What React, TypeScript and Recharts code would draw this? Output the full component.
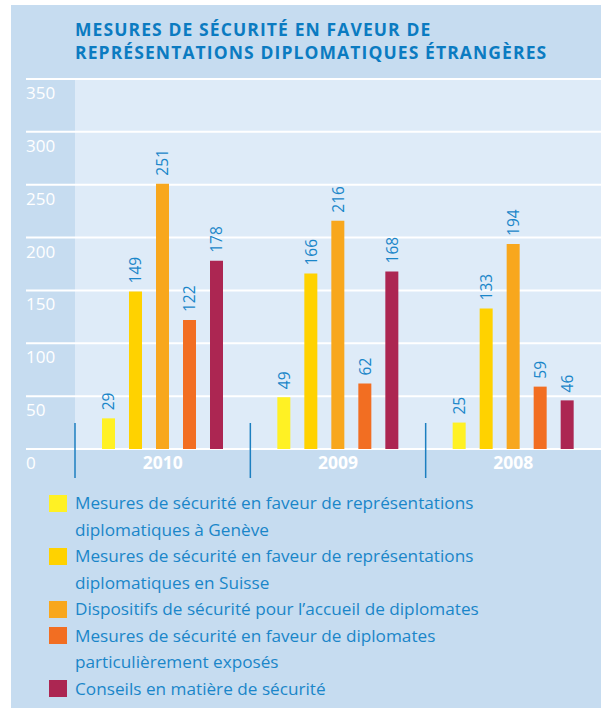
import React from 'react';
import { BarChart, Bar, XAxis, YAxis, CartesianGrid, Legend, LabelList } from 'recharts';

const years = ['2010', '2009', '2008'];
const geneve = [29, 49, 25];
const suisse = [149, 166, 133];
const accueil = [251, 216, 194];
const exposes = [122, 62, 59];
const conseils = [178, 168, 46];
const yTicks = [0, 50, 100, 150, 200, 250, 300, 350];

const seriesNames = [
    'Mesures de sécurité en faveur de représentations diplomatiques à Genève',
    'Mesures de sécurité en faveur de représentations diplomatiques en Suisse',
    'Dispositifs de sécurité pour l’accueil de diplomates',
    'Mesures de sécurité en faveur de diplomates particulièrement exposés',
    'Conseils en matière de sécurité',
];
const seriesColors = ['#fff124', '#ffd200', '#f8a71d', '#f26e22', '#ac2652'];
const seriesKeys = ['geneve', 'suisse', 'accueil', 'exposes', 'conseils'];
const seriesValues = [geneve, suisse, accueil, exposes, conseils];

const data = years.map((year, i) => {
    const row: any = { year };
    seriesKeys.forEach((k, s) => { row[k] = seriesValues[s][i]; });
    return row;
});

const W = 601;
const H = 711;
const PLOT_LEFT = 26;
const PLOT_TOP = 79;
const PLOT_BOTTOM = 449;
const CAT_LEFT = 75;
const BAND = (W - CAT_LEFT) / years.length;
const FONT = '"Open Sans", "Noto Sans", sans-serif';
const BLUE = '#1a86c9';

const YTick = ({ y, payload }) => (
    <text x={PLOT_LEFT} y={y + 20} fill="#ffffff" fontSize={17} fontFamily={FONT} textAnchor="start">
        {payload.value}
    </text>
);

const XTick = ({ x, payload }) => (
    <g>
        <line x1={x - BAND / 2} x2={x - BAND / 2} y1={PLOT_BOTTOM - 26} y2={PLOT_BOTTOM + 29} stroke="#1c7fc0" strokeWidth={1.5} />
        <text x={x} y={PLOT_BOTTOM + 20} fill="#ffffff" fontSize={17.5} fontWeight={700} fontFamily={FONT} textAnchor="middle">
            {payload.value}
        </text>
    </g>
);

const ValueLabel = ({ x, y, width, value }) => {
    const cx = x + width / 2;
    const ty = y - 8;
    return (
        <text x={cx} y={ty} transform={`rotate(-90, ${cx}, ${ty})`} fill={BLUE} fontSize={15.5} fontFamily={FONT}
            textAnchor="start" dominantBaseline="central">
            {value}
        </text>
    );
};

// keep the legend in series order, not alphabetical
const LegendContent = ({ payload }) => {
    const items = [...payload].sort((a, b) => seriesNames.indexOf(a.value) - seriesNames.indexOf(b.value));
    return (
        <div style={{ fontFamily: FONT, fontSize: 17.2, lineHeight: '26.5px', color: BLUE }}>
            {items.map((entry) => (
                <div key={entry.value} style={{ display: 'flex', alignItems: 'flex-start' }}>
                    <div style={{ width: 18, height: 17, marginTop: 4.5, marginRight: 8, background: entry.color, flexShrink: 0 }} />
                    <div style={{ width: 440 }}>{entry.value}</div>
                </div>
            ))}
        </div>
    );
};

export default function App() {
    return (
        <div style={{ position: 'absolute', left: 0, top: 0, width: W, height: H, background: '#ffffff', overflow: 'hidden' }}>
            <div style={{ position: 'absolute', left: 11, top: 5, width: W - 11, height: 703, background: '#c6dcf0' }} />
            <div style={{ position: 'absolute', left: CAT_LEFT, top: PLOT_TOP, width: W - CAT_LEFT, height: PLOT_BOTTOM - PLOT_TOP, background: '#deebf8' }} />
            <div style={{ position: 'absolute', left: 75, top: 18, fontFamily: FONT, fontWeight: 700, fontSize: 17.5, lineHeight: '23px', letterSpacing: 1.1, color: '#0b7bc1', whiteSpace: 'nowrap' }}>
                MESURES DE SÉCURITÉ EN FAVEUR DE<br />REPRÉSENTATIONS DIPLOMATIQUES ÉTRANGÈRES
            </div>
            <div style={{ position: 'absolute', left: 0, top: 0 }}>
                <BarChart width={W} height={H} data={data} barSize={13} barGap={14}
                    margin={{ top: PLOT_TOP, right: 0, bottom: H - PLOT_BOTTOM - 30, left: 0 }}>
                    <CartesianGrid vertical={false} stroke="#ffffff" strokeWidth={2} />
                    <XAxis dataKey="year" height={30} padding={{ left: CAT_LEFT - PLOT_LEFT, right: 0 }}
                        axisLine={false} tickLine={false} tick={XTick} interval={0} />
                    <YAxis width={PLOT_LEFT} domain={[0, 350]} ticks={yTicks} axisLine={false} tickLine={false} tick={YTick} interval={0} />
                    {seriesKeys.map((k, s) => (
                        <Bar key={k} dataKey={k} name={seriesNames[s]} fill={seriesColors[s]} isAnimationActive={false}>
                            <LabelList dataKey={k} content={ValueLabel} />
                        </Bar>
                    ))}
                    <Legend layout="vertical" align="center" verticalAlign="middle" content={LegendContent}
                        wrapperStyle={{ left: 49, top: 490, width: 540, height: 'auto' }} />
                </BarChart>
            </div>
        </div>
    );
}
